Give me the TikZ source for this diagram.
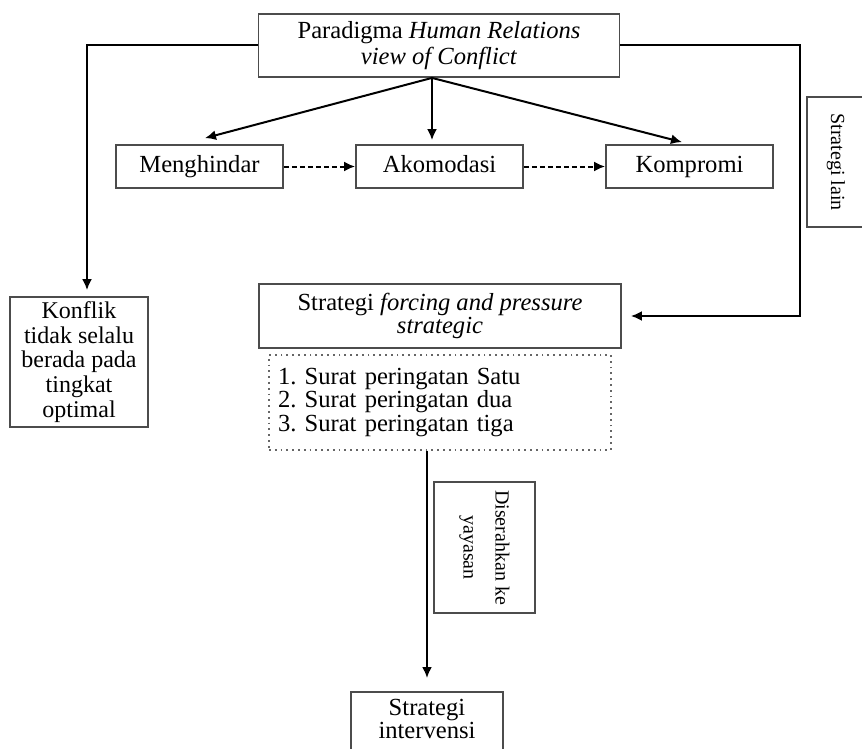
\documentclass[tikz,border=0pt]{standalone}
\usepackage{fontspec}
\setmainfont{Liberation Serif}
\usetikzlibrary{arrows.meta, positioning}

\begin{document}
\begin{tikzpicture}[
    x=0.5pt, y=-0.5pt,
    font=\fontsize{12.3}{13}\selectfont,
    box/.style={rectangle, draw=black!70, line width=0.9pt, align=center, inner sep=2pt},
    smallbox/.style={box, minimum width=83.5pt, minimum height=21.5pt, text height=8.5pt, text depth=2.5pt},
    sidebox/.style={box, rotate=-90, font=\fontsize{10}{16}\selectfont},
    arrow/.style={-{Latex[length=5.5pt, width=5pt]}, line width=1pt},
    dasharrow/.style={arrow, dash pattern=on 2.5pt off 1.5pt}
]

\useasboundingbox (0,0) rectangle (862,749);
\clip (0,0) rectangle (862,749);

% Nodes
\node[box, minimum width=180.5pt, minimum height=31.5pt] (paradigma) at (439,45.5) {Paradigma \textit{Human Relations}\\ \textit{view of Conflict}};
\node[smallbox] (menghindar) at (199.5,166.5) {Menghindar};
\node[smallbox] (akomodasi) at (439.5,166.5) {Akomodasi};
\node[smallbox] (kompromi) at (689.5,166.5) {Kompromi};
\node[sidebox, minimum width=65pt, minimum height=29pt] (lain) at (836,162) {Strategi lain};
\node[box, minimum width=69pt, minimum height=65pt, font=\fontsize{12}{12.3}\selectfont] (konflik) at (79,362) {Konflik\\ tidak selalu\\ berada pada\\ tingkat\\ optimal};
\node[box, minimum width=181pt, minimum height=32pt, font=\fontsize{12.3}{11.8}\selectfont] (forcing) at (440,316) {Strategi \textit{forcing and pressure}\\ \textit{strategic}};
\node[box, draw=black!60, dotted, below=2.5pt of forcing, text width=162pt, inner xsep=4.5pt, minimum height=47.5pt, align=left, font=\fontsize{12.3}{11.8}\selectfont] (surat) {1.\ Surat peringatan Satu\\ 2.\ Surat peringatan dua\\ 3.\ Surat peringatan tiga};
\node[sidebox, minimum width=65.5pt, minimum height=50.5pt] (serah) at (484.5,547.5) {Diserahkan ke\\ yayasan};
\node[box, anchor=north, minimum width=76pt, inner ysep=3.5pt, text depth=9pt, font=\fontsize{12.3}{11.5}\selectfont] (intervensi) at (427,691) {Strategi\\ intervensi};
\coordinate (belok) at (800,316);

% Arrows
\draw[arrow, shorten >=3pt] (paradigma.west) -| ([xshift=4pt]konflik.north);
\draw[arrow, shorten >=4.5pt] (paradigma.east) -| (belok) -- (forcing.east);
\draw[arrow] ([xshift=-3.5pt]paradigma.south) -- ([xshift=2.75pt, yshift=3pt]menghindar.north);
\draw[arrow, shorten >=2pt] ([xshift=-3.5pt]paradigma.south) -- ([xshift=-3.75pt]akomodasi.north);
\draw[arrow] ([xshift=-3.5pt]paradigma.south) -- ([xshift=-3.75pt, yshift=1pt]kompromi.north);
\draw[dasharrow] (menghindar.east) -- (akomodasi.west);
\draw[dasharrow] (akomodasi.east) -- (kompromi.west);
\draw[arrow, shorten >=6.5pt] (surat.south -| intervensi.north) -- (intervensi.north);

\end{tikzpicture}
\end{document}
